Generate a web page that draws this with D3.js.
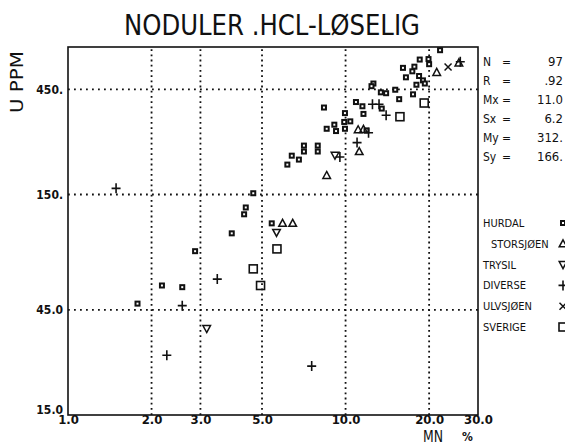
<!DOCTYPE html>
<html>
<head>
<meta charset="utf-8">
<script src="https://cdn.jsdelivr.net/npm/d3@7"></script>
<style>
body { margin: 0; background: #fff; }
text { font-family: "Liberation Sans Narrow", "DejaVu Sans Condensed", "Liberation Sans", sans-serif; fill: #111; }
</style>
</head>
<body>
<div id="chart"></div>
<script>
// values: MN % (x) and U ppm (y), one pair of arrays per group
const hurdalMn = [4.65,4.37,4.31,3.89,2.87,2.18,2.58,1.78,5.42,6.40,6.79,6.17,7.08,7.08,7.94,7.94,8.55,9.11,9.24,8.36,9.95,9.89,10.4,9.95,10.9,11.5,11.6,11.9,12.6,12.4,13.5,13.4,14.0,15.1,15.6,17.5,18.0,16.1,16.5,17.4,17.7,18.5,18.4,19.0,19.3,19.9,20.0,21.9];
const hurdalU  = [152,131,122,100,83,58,57,48,111,225,216,205,250,235,250,235,298,311,291,372,351,320,322,298,394,377,348,293,478,465,368,436,432,448,406,427,472,563,510,543,570,614,517,494,478,617,585,677];
const storsjoenMn = [5.93,6.45,8.55,11.2,11.1,11.6,21.3,25.6];
const storsjoenU  = [111,111,183,235,295,296,537,593];
const trysilMn = [3.16,5.64,9.16];
const trysilU  = [37,101,226];
const diverseMn = [1.49,2.58,3.45,2.27,7.55,9.54,11.0,12.1,12.5,13.2,14.0,25.9];
const diverseU  = [160,47,62,28,25,222,258,286,385,385,343,600];
const ulvsjoenMn = [23.4];
const ulvsjoenU  = [568];
const sverigeMn = [4.65,4.94,5.66,19.2,15.7];
const sverigeU  = [69,58,85,390,338];

const xTicks = [1,2,3,5,10,20,30];
const xTickLabels = ["1.0","2.0","3.0","5.0","10.0","20.0","30.0"];
const yTicks = [15,45,150,450];
const yTickLabels = ["15.0","45.0","150.","450."];
const xGrid = [2,3,5,10,20];
const yGrid = [45,150,450];

const legendNames = ["HURDAL","STORSJØEN","TRYSIL","DIVERSE","ULVSJØEN","SVERIGE"];
const legendSymbols = ["small","up","down","plus","cross","square"];
const statNames = ["N","R","Mx","Sx","My","Sy"];
const statValues = ["97",".92","11.0","6.2","312.","166."];

const W = 565, H = 446;
const svg = d3.select("#chart").append("svg")
    .attr("width", W)
    .attr("height", H);

const x = d3.scaleLog().domain([1, 30]).range([68, 478]);
const y = d3.scaleLog().domain([15, 700]).range([415, 47]);

// dotted grid
svg.selectAll(".vgrid").data(xGrid).enter().append("line")
    .attr("x1", d => x(d)).attr("x2", d => x(d))
    .attr("y1", y(15)).attr("y2", y(700))
    .attr("stroke", "#111").attr("stroke-width", 1.8)
    .attr("stroke-dasharray", "1.8,3.4");
svg.selectAll(".hgrid").data(yGrid).enter().append("line")
    .attr("x1", x(1)).attr("x2", x(30))
    .attr("y1", d => y(d)).attr("y2", d => y(d))
    .attr("stroke", "#111").attr("stroke-width", 1.8)
    .attr("stroke-dasharray", "1.8,4.2");

// frame
svg.append("rect")
    .attr("x", x(1)).attr("y", y(700))
    .attr("width", x(30) - x(1)).attr("height", y(15) - y(700))
    .attr("fill", "none").attr("stroke", "#111").attr("stroke-width", 1.6);

// axes
const xAxis = svg.append("g")
    .attr("transform", `translate(0,${y(15)})`)
    .call(d3.axisBottom(x).tickValues(xTicks).tickFormat((d, i) => xTickLabels[i]).tickSize(0).tickPadding(0));
xAxis.select(".domain").remove();
xAxis.selectAll("text").attr("font-size", 13).attr("font-family", null).style("font-weight", "bold");

const yAxis = svg.append("g")
    .attr("transform", `translate(${x(1) - 2},0)`)
    .call(d3.axisLeft(y).tickValues(yTicks).tickFormat((d, i) => yTickLabels[i]).tickSize(0).tickPadding(3));
yAxis.select(".domain").remove();
yAxis.selectAll("text").attr("font-size", 12).attr("font-family", null).style("font-weight", "bold");
// bottom label sits a little above the corner, as on the plot
yAxis.selectAll(".tick").filter(d => d === 15).select("text").attr("dy", "-0.15em");

// symbols
function drawSymbol(g, type) {
    const s = g.append("g");
    if (type === "small") {
        s.append("rect").attr("x", -2).attr("y", -2).attr("width", 4).attr("height", 4)
            .attr("fill", "#fff").attr("stroke", "#111").attr("stroke-width", 2);
    } else if (type === "square") {
        s.append("rect").attr("x", -4).attr("y", -4).attr("width", 8).attr("height", 8)
            .attr("fill", "none").attr("stroke", "#111").attr("stroke-width", 1.6);
    } else if (type === "up") {
        s.append("path").attr("d", "M0,-4L3.8,3L-3.8,3Z").attr("fill", "none").attr("stroke", "#111").attr("stroke-width", 1.5);
    } else if (type === "down") {
        s.append("path").attr("d", "M0,4L3.8,-3L-3.8,-3Z").attr("fill", "none").attr("stroke", "#111").attr("stroke-width", 1.5);
    } else if (type === "plus") {
        s.append("path").attr("d", "M-4.5,0H4.5M0,-5V5").attr("stroke", "#111").attr("stroke-width", 1.6);
    } else if (type === "cross") {
        s.append("path").attr("d", "M-3.5,-3.5L3.5,3.5M-3.5,3.5L3.5,-3.5").attr("stroke", "#111").attr("stroke-width", 1.5);
    }
    return s;
}

const groups = [
    [hurdalMn, hurdalU, "small"],
    [storsjoenMn, storsjoenU, "up"],
    [trysilMn, trysilU, "down"],
    [diverseMn, diverseU, "plus"],
    [ulvsjoenMn, ulvsjoenU, "cross"],
    [sverigeMn, sverigeU, "square"]
];
groups.forEach(([mn, u, type]) => {
    mn.forEach((v, i) => {
        drawSymbol(svg, type).attr("transform", `translate(${x(v)},${y(u[i])})`);
    });
});

// title and axis titles
svg.append("text")
    .attr("x", 272).attr("y", 35)
    .attr("text-anchor", "middle")
    .attr("font-size", 28)
    .attr("textLength", 296).attr("lengthAdjust", "spacingAndGlyphs")
    .text("NODULER .HCL-LØSELIG");

svg.append("text")
    .attr("transform", "translate(23,82) rotate(-90)")
    .attr("text-anchor", "middle")
    .attr("font-size", 17)
    .attr("textLength", 62).attr("lengthAdjust", "spacingAndGlyphs")
    .text("U PPM");

svg.append("text")
    .attr("x", 423).attr("y", 442)
    .attr("font-size", 15)
    .attr("textLength", 20).attr("lengthAdjust", "spacingAndGlyphs")
    .text("MN");
svg.append("text")
    .attr("x", 462).attr("y", 441)
    .attr("font-size", 12).style("font-weight", "bold")
    .text("%");

// statistics block
const statY = d3.scalePoint().domain(statNames).range([66, 161]);
svg.selectAll(".statName").data(statNames).enter().append("text")
    .attr("x", 483).attr("y", d => statY(d))
    .attr("font-size", 12)
    .text(d => d);
svg.selectAll(".statEq").data(statNames).enter().append("text")
    .attr("x", 502).attr("y", d => statY(d))
    .attr("font-size", 12)
    .text("=");
svg.selectAll(".statVal").data(statValues).enter().append("text")
    .attr("x", 563).attr("y", (d, i) => statY(statNames[i]))
    .attr("text-anchor", "end")
    .attr("font-size", 13)
    .text(d => d);

// legend
const legY = d3.scalePoint().domain(legendNames).range([223, 327]);
svg.selectAll(".legName").data(legendNames).enter().append("text")
    .attr("x", (d, i) => i === 1 ? 491 : 483)
    .attr("y", d => legY(d) + 4)
    .attr("font-size", 11)
    .text(d => d);
legendNames.forEach((d, i) => {
    drawSymbol(svg, legendSymbols[i]).attr("transform", `translate(563,${legY(d)})`);
});
</script>
</body>
</html>
